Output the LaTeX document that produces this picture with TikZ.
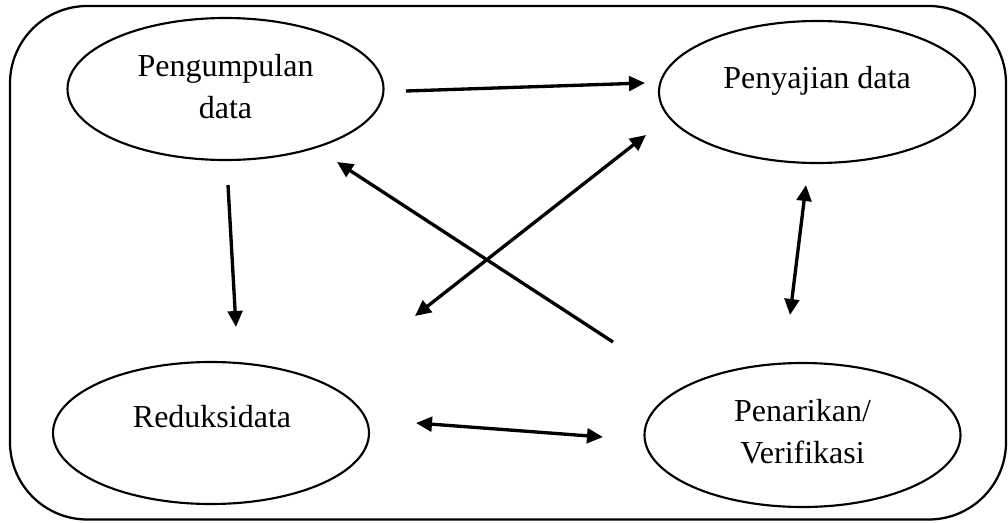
\documentclass[tikz,border=0pt]{standalone}
\usepackage{fontspec}
\setmainfont{Liberation Serif}
\usetikzlibrary{arrows.meta,shapes.geometric}
\begin{document}
\begin{tikzpicture}[x=0.75pt,y=-0.75pt,
  ell/.style={draw, ellipse, line width=1.6pt, minimum width=237pt, minimum height=106.5pt, inner sep=0pt},
  lbl/.style={align=center, inner sep=0pt, font=\fontsize{24}{31.1}\selectfont},
  arr/.style={line width=2.5pt, -{Triangle[length=12pt,width=11pt]}},
  darr/.style={line width=2.5pt, {Triangle[length=12pt,width=11pt]}-{Triangle[length=12pt,width=11pt]}},
  frame/.style={draw, line width=1.7pt, rounded corners=58pt}]
\useasboundingbox (0,0) rectangle (1008,522);
\draw[frame] (10,6) rectangle (1006,519.5);
% ellipses
\node[ell] (pd) at (225.5,89) {};
\node[ell] (sd) at (817,92) {};
\node[ell] (rd) at (211,433) {};
\node[ell, minimum height=108pt] (pv) at (802.5,435) {};
% texts
\node[lbl] (pdt) at (225.5,86.6) {Pengumpulan\\data};
\node[lbl] (sdt) at (817,80.6) {Penyajian data};
\node[lbl] (rdt) at (212,417) {Reduksidata};
\node[lbl] (pvt) at (802.5,431.4) {Penarikan/\\Verifikasi};
% arrow end points
\coordinate (a1s) at (406,91);  \coordinate (a1e) at (645,83);
\coordinate (a2s) at (228,185); \coordinate (a2e) at (236,327);
\coordinate (a3s) at (613,342); \coordinate (a3e) at (337,162);
\coordinate (a4s) at (646,135); \coordinate (a4e) at (415,316);
\coordinate (a5s) at (806,185); \coordinate (a5e) at (790,315);
\coordinate (a6s) at (416,423); \coordinate (a6e) at (603,437);
% connectors
\draw[arr] (a1s) -- (a1e);
\draw[arr] (a2s) -- (a2e);
\draw[arr] (a3s) -- (a3e);
\draw[darr] (a4s) -- (a4e);
\draw[darr] (a5s) -- (a5e);
\draw[darr] (a6s) -- (a6e);
\end{tikzpicture}
\end{document}
